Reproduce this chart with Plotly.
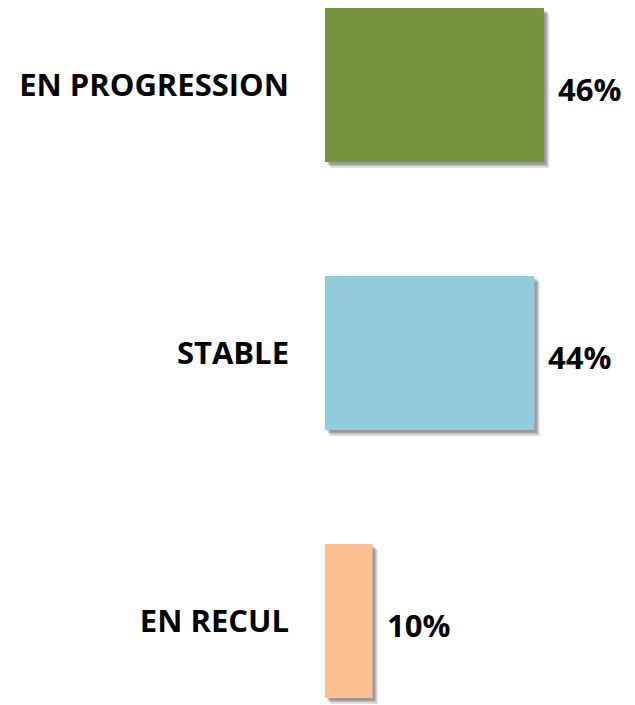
import plotly.graph_objects as go

categories = ["EN PROGRESSION", "STABLE", "EN RECUL"]
values = [46, 44, 10]
colors = ["#77933C", "#93CDDD", "#FAC090"]
value_labels = ["46%", "44%", "10%"]

BAR_W = 0.575
FONT = "Open Sans"

fig = go.Figure()

# soft drop shadow: several translucent layers offset to the lower right
for i, (dx, dy, a) in enumerate([(0.5, 0.010, 0.18), (0.8, 0.016, 0.16), (1.1, 0.022, 0.12)]):
    fig.add_trace(go.Bar(
        y=categories, x=values, base=dx, orientation="h",
        width=BAR_W, offset=-BAR_W / 2 + dy,
        marker=dict(color=f"rgba(0,0,0,{a})", line=dict(width=0)),
        hoverinfo="skip", showlegend=False,
    ))

fig.add_trace(go.Bar(
    y=categories, x=values, orientation="h",
    width=BAR_W, offset=-BAR_W / 2,
    marker=dict(color=colors, line=dict(width=0)),
    showlegend=False,
))

for c, v, t in zip(categories, values, value_labels):
    fig.add_annotation(
        x=v, y=c, text=f"<b>{t}</b>", showarrow=False,
        xanchor="left", xshift=12, yshift=-4,
        font=dict(family=FONT, size=31, color="#000000"),
    )

fig.update_layout(
    width=635, height=705,
    margin=dict(l=325, r=0, t=0, b=0),
    paper_bgcolor="white", plot_bgcolor="white",
    barmode="overlay",
    xaxis=dict(range=[0, 310 / 4.76], visible=False),
    yaxis=dict(
        range=[2 + 84 / 268, -85 / 268],
        tickmode="array", tickvals=categories,
        ticktext=[f"<b>{c}</b>" for c in categories],
        tickfont=dict(family=FONT, size=31, color="#000000"),
        ticklabelstandoff=35, showgrid=False, zeroline=False,
        showline=False, ticks="",
    ),
)

fig.write_html("out.html")
